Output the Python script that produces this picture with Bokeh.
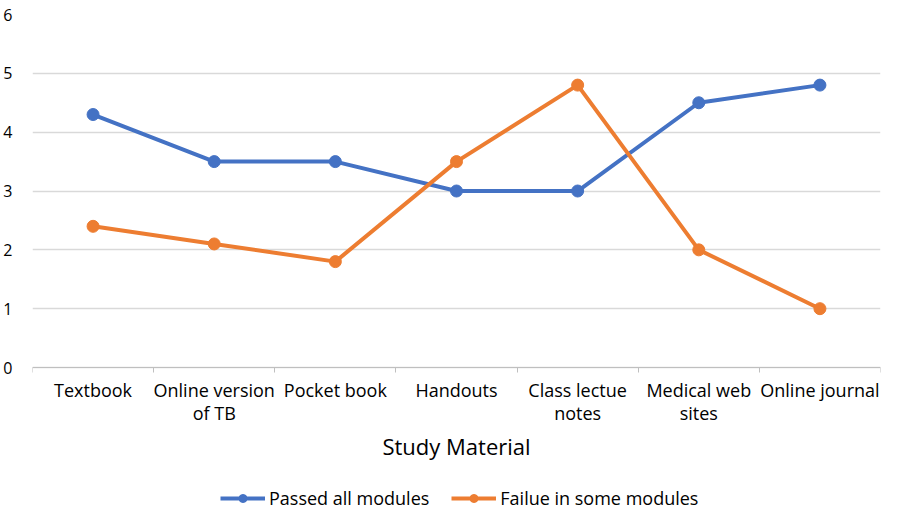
from bokeh.plotting import figure
from bokeh.models import Range1d, FixedTicker, Legend, LegendItem, ColumnDataSource
from bokeh.embed import file_html
from bokeh.resources import INLINE

categories = ["Textbook", "Online version of TB", "Pocket book", "Handouts",
              "Class lectue notes", "Medical web sites", "Online journal"]
tick_labels = ["Textbook", "Online version\nof TB", "Pocket book", "Handouts",
               "Class lectue\nnotes", "Medical web\nsites", "Online journal"]
passed = [4.3, 3.5, 3.5, 3.0, 3.0, 4.5, 4.8]
failure = [2.4, 2.1, 1.8, 3.5, 4.8, 2.0, 1.0]
series_names = ["Passed all modules", "Failue in some modules"]
y_ticks = [0, 1, 2, 3, 4, 5, 6]

FONT = "Open Sans"
BLUE = "#4472C4"
ORANGE = "#ED7D31"

xs = list(range(len(categories)))
src = ColumnDataSource(dict(x=xs, passed=passed, failure=failure))

# frame spans 14..510 px; values 0..6 occupy the top 353 px, the rest holds axis texts and legend
p = figure(width=882, height=510, output_backend="svg", toolbar_location=None,
           x_range=Range1d(-0.5, len(categories) - 0.5), y_range=Range1d(-2.43, 6),
           min_border_left=26, min_border_right=2, min_border_top=14, min_border_bottom=0)
p.outline_line_color = None
p.background_fill_color = "white"
p.border_fill_color = "white"

# x axis drawn at y = 0 inside the frame
p.xaxis.fixed_location = 0
p.xaxis.ticker = FixedTicker(ticks=xs, minor_ticks=[i - 0.5 for i in range(len(categories) + 1)])
p.xaxis.major_label_overrides = {i: lab for i, lab in enumerate(tick_labels)}
p.xaxis.major_tick_line_color = None
p.xaxis.major_tick_out = 0
p.xaxis.major_tick_in = 0
p.xaxis.minor_tick_line_color = "#BFBFBF"
p.xaxis.minor_tick_out = 5
p.xaxis.minor_tick_in = 0
p.xaxis.axis_line_color = "#BFBFBF"
p.xaxis.major_label_text_font = FONT
p.xaxis.major_label_text_font_size = "18px"
p.xaxis.major_label_text_line_height = 0.98
p.xaxis.major_label_text_color = "#000000"
p.xaxis.major_label_standoff = 5
p.xaxis.major_label_orientation = "horizontal"
p.xaxis.axis_label = "Study Material"
p.xaxis.axis_label_text_font = FONT
p.xaxis.axis_label_text_font_size = "22px"
p.xaxis.axis_label_text_font_style = "normal"
p.xaxis.axis_label_text_color = "#000000"
p.xaxis.axis_label_standoff = 3

# y axis
p.yaxis.ticker = FixedTicker(ticks=y_ticks)
p.yaxis.axis_line_color = None
p.yaxis.major_tick_line_color = None
p.yaxis.minor_tick_line_color = None
p.yaxis.major_label_text_font = FONT
p.yaxis.major_label_text_font_size = "16px"
p.yaxis.major_label_text_color = "#000000"
p.yaxis.major_label_standoff = 14

p.xgrid.grid_line_color = None
p.ygrid.ticker = FixedTicker(ticks=y_ticks)
p.ygrid.grid_line_color = "#D9D9D9"
p.ygrid.grid_line_width = 1.3

l1 = p.line("x", "passed", source=src, line_color=BLUE, line_width=4)
c1 = p.scatter("x", "passed", source=src, size=12, fill_color=BLUE, line_color=BLUE)
l2 = p.line("x", "failure", source=src, line_color=ORANGE, line_width=4)
c2 = p.scatter("x", "failure", source=src, size=12, fill_color=ORANGE, line_color=ORANGE)

legend = Legend(items=[LegendItem(label=series_names[0], renderers=[l1, c1]),
                       LegendItem(label=series_names[1], renderers=[l2, c2])],
                orientation="horizontal", location=(188, 0),
                label_text_font=FONT, label_text_font_size="18px", label_text_color="#000000",
                glyph_width=45, glyph_height=20, label_standoff=4, spacing=22,
                border_line_color=None, background_fill_alpha=0,
                padding=0, margin=0)
p.add_layout(legend, "center")

open("out.html", "w").write(file_html(p, INLINE))
